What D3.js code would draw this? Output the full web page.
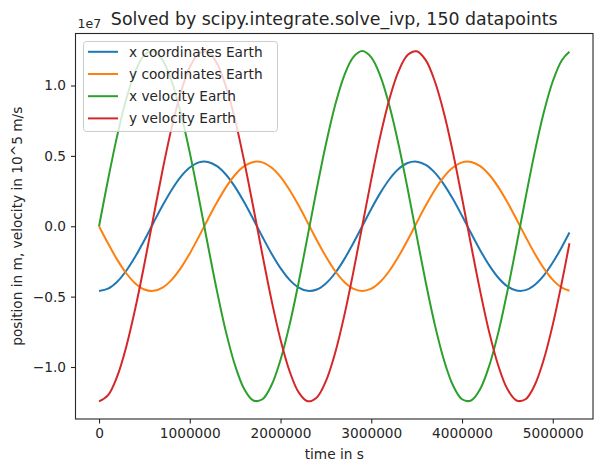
<!DOCTYPE html>
<html>
<head>
<meta charset="utf-8">
<script src="https://cdn.jsdelivr.net/npm/d3@7"></script>
<style>
  body { margin: 0; background: #fff; }
  svg { display: block; font-family: "DejaVu Sans", sans-serif; }
</style>
</head>
<body>
<svg id="chart" width="595" height="466"></svg>
<script>
// time in s, read every 100000 s plus the last point
const time = [0, 100000, 200000, 300000, 400000, 500000, 600000, 700000, 800000, 900000,
  1000000, 1100000, 1200000, 1300000, 1400000, 1500000, 1600000, 1700000, 1800000, 1900000,
  2000000, 2100000, 2200000, 2300000, 2400000, 2500000, 2600000, 2700000, 2800000, 2900000,
  3000000, 3100000, 3200000, 3300000, 3400000, 3500000, 3600000, 3700000, 3800000, 3900000,
  4000000, 4100000, 4200000, 4300000, 4400000, 4500000, 4600000, 4700000, 4800000, 4900000,
  5000000, 5100000, 5184000];

// values, in units of 1e6
const xCoord = [-4.60, -4.43, -3.94, -3.16, -2.15, -0.99, 0.25, 1.47, 2.58, 3.51,
  4.17, 4.54, 4.57, 4.27, 3.66, 2.78, 1.70, 0.50, -0.74, -1.93,
  -2.98, -3.81, -4.36, -4.59, -4.49, -4.06, -3.34, -2.37, -1.23, 0.00,
  1.23, 2.37, 3.34, 4.06, 4.49, 4.59, 4.36, 3.81, 2.98, 1.93,
  0.74, -0.50, -1.70, -2.78, -3.66, -4.27, -4.57, -4.54, -4.17, -3.51,
  -2.58, -1.47, -0.45];
const yCoord = [0.00, -1.23, -2.37, -3.34, -4.06, -4.49, -4.59, -4.36, -3.81, -2.98,
  -1.93, -0.74, 0.50, 1.70, 2.78, 3.66, 4.27, 4.57, 4.54, 4.17,
  3.51, 2.58, 1.47, 0.25, -0.99, -2.15, -3.16, -3.94, -4.43, -4.60,
  -4.43, -3.94, -3.16, -2.15, -0.99, 0.25, 1.47, 2.58, 3.51, 4.17,
  4.54, 4.57, 4.27, 3.66, 2.78, 1.70, 0.50, -0.74, -1.93, -2.98,
  -3.81, -4.36, -4.58];
const xVel = [0.00, 3.33, 6.42, 9.04, 11.00, 12.16, 12.43, 11.80, 10.30, 8.06,
  5.23, 2.01, -1.35, -4.61, -7.54, -9.91, -11.57, -12.38, -12.29, -11.30,
  -9.49, -6.99, -3.98, -0.67, 2.68, 5.83, 8.56, 10.67, 12.00, 12.45,
  12.00, 10.67, 8.56, 5.83, 2.68, -0.67, -3.98, -6.99, -9.49, -11.30,
  -12.29, -12.38, -11.57, -9.91, -7.54, -4.61, -1.35, 2.01, 5.23, 8.06,
  10.30, 11.80, 12.39];
const yVel = [-12.45, -12.00, -10.67, -8.56, -5.83, -2.68, 0.67, 3.98, 6.99, 9.49,
  11.30, 12.29, 12.38, 11.57, 9.91, 7.54, 4.61, 1.35, -2.01, -5.23,
  -8.06, -10.30, -11.80, -12.43, -12.16, -11.00, -9.04, -6.42, -3.33, 0.00,
  3.33, 6.42, 9.04, 11.00, 12.16, 12.43, 11.80, 10.30, 8.06, 5.23,
  2.01, -1.35, -4.61, -7.54, -9.91, -11.57, -12.38, -12.29, -11.30, -9.49,
  -6.99, -3.98, -1.21];

const seriesNames = ["x coordinates Earth", "y coordinates Earth", "x velocity Earth", "y velocity Earth"];
const colors = ["#1f77b4", "#ff7f0e", "#2ca02c", "#d62728"];
const xTicks = [0, 1000000, 2000000, 3000000, 4000000, 5000000];
const yTicks = [-1.0, -0.5, 0.0, 0.5, 1.0]; // in 1e7

const allSeries = [xCoord, yCoord, xVel, yVel];

const plotLeft = 75.5, plotRight = 593, plotTop = 33.5, plotBottom = 419;

const svg = d3.select("#chart");

// matplotlib style 5% margins
const tMax = d3.max(time);
const tPad = tMax * 0.05;
const x = d3.scaleLinear().domain([-tPad, tMax + tPad]).range([plotLeft, plotRight]);

const vMin = d3.min(allSeries, s => d3.min(s)) * 1e6;
const vMax = d3.max(allSeries, s => d3.max(s)) * 1e6;
const vPad = (vMax - vMin) * 0.05;
const y = d3.scaleLinear().domain([vMin - vPad, vMax + vPad]).range([plotBottom, plotTop]);

// lines
const line = d3.line()
  .x((d, i) => x(time[i]))
  .y(d => y(d * 1e6))
  .curve(d3.curveCatmullRom);

svg.append("g")
  .selectAll("path")
  .data(allSeries)
  .enter()
  .append("path")
  .attr("d", d => line(d))
  .attr("fill", "none")
  .attr("stroke", (d, i) => colors[i])
  .attr("stroke-width", 2);

// axes
const xAxis = d3.axisBottom(x).tickValues(xTicks).tickSize(4.5).tickPadding(5)
  .tickFormat(d => d3.format("d")(d));
svg.append("g")
  .attr("transform", `translate(0,${plotBottom})`)
  .call(xAxis)
  .call(g => g.select(".domain").remove());

const yAxis = d3.axisLeft(y).tickValues(yTicks.map(v => v * 1e7)).tickSize(4.5).tickPadding(5)
  .tickFormat(d => d3.format(".1f")(d / 1e7).replace("-", "\u2212"));
svg.append("g")
  .attr("transform", `translate(${plotLeft},0)`)
  .call(yAxis)
  .call(g => g.select(".domain").remove());

svg.selectAll(".tick text")
  .attr("font-family", "DejaVu Sans, sans-serif")
  .attr("font-size", 13.7)
  .attr("fill", "#262626");
svg.selectAll(".tick line").attr("stroke", "#262626").attr("stroke-width", 1.1);

// frame
svg.append("rect")
  .attr("x", plotLeft).attr("y", plotTop)
  .attr("width", plotRight - plotLeft).attr("height", plotBottom - plotTop)
  .attr("fill", "none")
  .attr("stroke", "#262626")
  .attr("stroke-width", 1.1);

// offset text
svg.append("text")
  .attr("x", plotLeft + 2).attr("y", 28)
  .attr("font-size", 12.5).attr("fill", "#262626")
  .text("1e7");

// title
svg.append("text")
  .attr("x", (plotLeft + plotRight) / 2).attr("y", 24.5)
  .attr("text-anchor", "middle")
  .attr("font-size", 17.4).attr("fill", "#262626")
  .text("Solved by scipy.integrate.solve_ivp, 150 datapoints");

// axis labels
svg.append("text")
  .attr("x", (plotLeft + plotRight) / 2).attr("y", 459)
  .attr("text-anchor", "middle")
  .attr("font-size", 13.7).attr("fill", "#262626")
  .text("time in s");

svg.append("text")
  .attr("transform", `translate(22,${(plotTop + plotBottom) / 2}) rotate(-90)`)
  .attr("text-anchor", "middle")
  .attr("font-size", 13.7).attr("fill", "#262626")
  .text("position in m, velocity in 10^5 m/s");

// legend
const legend = svg.append("g");
legend.append("rect")
  .attr("x", 83.5).attr("y", 41.5)
  .attr("width", 194).attr("height", 90)
  .attr("rx", 3)
  .attr("fill", "#fff").attr("fill-opacity", 0.8)
  .attr("stroke", "#cccccc").attr("stroke-width", 1);

const rows = legend.selectAll("g.row")
  .data(seriesNames)
  .enter()
  .append("g")
  .attr("transform", (d, i) => `translate(0,${51.8 + i * 22.2})`);
rows.append("line")
  .attr("x1", 88).attr("x2", 118)
  .attr("stroke", (d, i) => colors[i])
  .attr("stroke-width", 2);
rows.append("text")
  .attr("x", 129).attr("y", 5)
  .attr("font-size", 13.7).attr("fill", "#262626")
  .text(d => d);
</script>
</body>
</html>
